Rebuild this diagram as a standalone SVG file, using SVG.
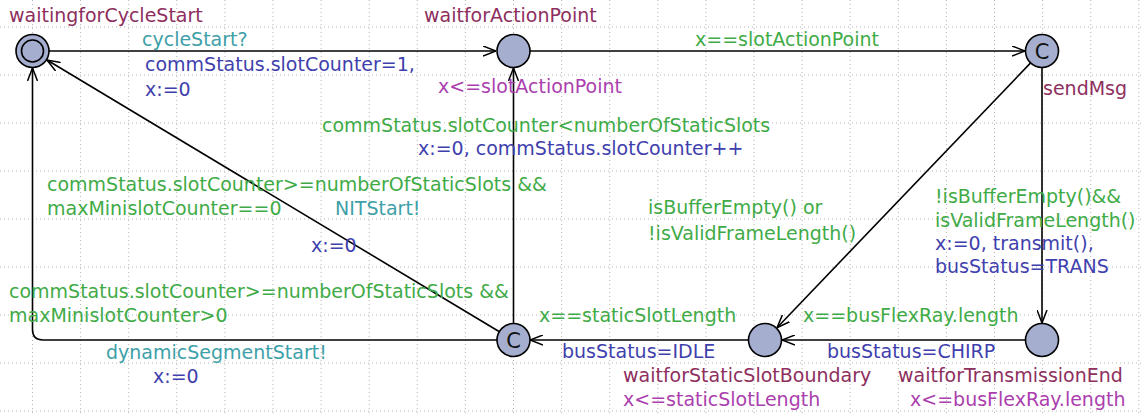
<svg xmlns="http://www.w3.org/2000/svg" width="1141" height="413" viewBox="0 0 1141 413">
  <style>
    .grid line { stroke: #b4b4b4; stroke-width: 1; stroke-dasharray: 1 3; }
    .loc { fill: #a5aecf; stroke: #000; stroke-width: 1.6; }
    .edge { fill: none; stroke: #000; stroke-width: 1.6; }
    text { font-family: "DejaVu Sans", "Liberation Sans", sans-serif; font-size: 19px; }
    .name { fill: #8e2f5e; }
    .inv { fill: #ab3fae; }
    .sync { fill: #3ea0a8; }
    .guard { fill: #3fab47; }
    .assign { fill: #3f3fae; }
    .committed { fill: #111; font-size: 21px; text-anchor: middle; }
  </style>
  <defs>
    <marker id="arrow" viewBox="0 0 13 11" refX="13" refY="5.5" markerWidth="13" markerHeight="11" markerUnits="userSpaceOnUse" orient="auto">
      <path d="M0,0.5 L13,5.5 L0,10.5" fill="none" stroke="#000" stroke-width="1.5"/>
    </marker>
  </defs>
  <rect width="1141" height="413" fill="#fff"/>

  <!-- background grid -->
  <g class="grid">
    <line x1="32.5" y1="0" x2="32.5" y2="413"/>
    <line x1="80.6" y1="0" x2="80.6" y2="413"/>
    <line x1="128.7" y1="0" x2="128.7" y2="413"/>
    <line x1="176.8" y1="0" x2="176.8" y2="413"/>
    <line x1="224.9" y1="0" x2="224.9" y2="413"/>
    <line x1="273" y1="0" x2="273" y2="413"/>
    <line x1="321.1" y1="0" x2="321.1" y2="413"/>
    <line x1="369.2" y1="0" x2="369.2" y2="413"/>
    <line x1="417.3" y1="0" x2="417.3" y2="413"/>
    <line x1="465.4" y1="0" x2="465.4" y2="413"/>
    <line x1="513.5" y1="0" x2="513.5" y2="413"/>
    <line x1="561.6" y1="0" x2="561.6" y2="413"/>
    <line x1="609.7" y1="0" x2="609.7" y2="413"/>
    <line x1="657.8" y1="0" x2="657.8" y2="413"/>
    <line x1="705.9" y1="0" x2="705.9" y2="413"/>
    <line x1="754" y1="0" x2="754" y2="413"/>
    <line x1="802.1" y1="0" x2="802.1" y2="413"/>
    <line x1="850.2" y1="0" x2="850.2" y2="413"/>
    <line x1="898.3" y1="0" x2="898.3" y2="413"/>
    <line x1="946.4" y1="0" x2="946.4" y2="413"/>
    <line x1="994.5" y1="0" x2="994.5" y2="413"/>
    <line x1="1042.6" y1="0" x2="1042.6" y2="413"/>
    <line x1="1090.7" y1="0" x2="1090.7" y2="413"/>
    <line x1="1138.8" y1="0" x2="1138.8" y2="413"/>
    <line x1="0" y1="27" x2="1141" y2="27"/>
    <line x1="0" y1="75" x2="1141" y2="75"/>
    <line x1="0" y1="123" x2="1141" y2="123"/>
    <line x1="0" y1="171" x2="1141" y2="171"/>
    <line x1="0" y1="219" x2="1141" y2="219"/>
    <line x1="0" y1="267" x2="1141" y2="267"/>
    <line x1="0" y1="315" x2="1141" y2="315"/>
    <line x1="0" y1="363" x2="1141" y2="363"/>
    <line x1="0" y1="411" x2="1141" y2="411"/>
  </g>

  <!-- transitions -->
  <g id="edges">
    <line class="edge" x1="49" y1="51" x2="496" y2="51" marker-end="url(#arrow)"/>
    <line class="edge" x1="530" y1="51" x2="1025" y2="51" marker-end="url(#arrow)"/>
    <line class="edge" x1="1042" y1="68" x2="1042" y2="323" marker-end="url(#arrow)"/>
    <line class="edge" x1="1030.6" y1="62.9" x2="777" y2="327.7" marker-end="url(#arrow)"/>
    <line class="edge" x1="1025" y1="340" x2="782" y2="340" marker-end="url(#arrow)"/>
    <line class="edge" x1="748" y1="340" x2="530" y2="340" marker-end="url(#arrow)"/>
    <line class="edge" x1="513.5" y1="323" x2="513.5" y2="68" marker-end="url(#arrow)"/>
    <line class="edge" x1="499" y1="331.5" x2="47" y2="60" marker-end="url(#arrow)"/>
    <path class="edge" d="M497,340 L43,340 Q32.5,340 32.5,329.5 L32.5,68" marker-end="url(#arrow)"/>

    <text class="sync" x="142" y="46">cycleStart?</text>
    <text class="assign" x="145" y="71">commStatus.slotCounter=1,</text>
    <text class="assign" x="145" y="96">x:=0</text>

    <text class="guard" x="695" y="46">x==slotActionPoint</text>

    <text class="guard" x="322" y="132">commStatus.slotCounter&lt;numberOfStaticSlots</text>
    <text class="assign" x="418" y="155">x:=0, commStatus.slotCounter++</text>

    <text class="guard" x="47" y="191">commStatus.slotCounter&gt;=numberOfStaticSlots &amp;&amp;</text>
    <text class="guard" x="47" y="215">maxMinislotCounter==0</text>
    <text class="sync" x="335" y="215">NITStart!</text>
    <text class="assign" x="311" y="252">x:=0</text>

    <text class="guard" x="648" y="214">isBufferEmpty() or</text>
    <text class="guard" x="648" y="240">!isValidFrameLength()</text>

    <text class="guard" x="935" y="203">!isBufferEmpty()&amp;&amp;</text>
    <text class="guard" x="935" y="227">isValidFrameLength()</text>
    <text class="assign" x="935" y="250">x:=0, transmit(),</text>
    <text class="assign" x="935" y="273">busStatus=TRANS</text>

    <text class="guard" x="9" y="298">commStatus.slotCounter&gt;=numberOfStaticSlots &amp;&amp;</text>
    <text class="guard" x="9" y="322">maxMinislotCounter&gt;0</text>
    <text class="sync" x="106" y="359">dynamicSegmentStart!</text>
    <text class="assign" x="153" y="383">x:=0</text>

    <text class="guard" x="539" y="322">x==staticSlotLength</text>
    <text class="assign" x="562" y="358">busStatus=IDLE</text>

    <text class="guard" x="803" y="322">x==busFlexRay.length</text>
    <text class="assign" x="827" y="358">busStatus=CHIRP</text>
  </g>

  <!-- locations -->
  <g id="waitingforCycleStart">
    <circle class="loc" cx="32.5" cy="51" r="16.5"/>
    <circle class="loc" cx="32.5" cy="51" r="11"/>
    <text class="name" x="9" y="22">waitingforCycleStart</text>
  </g>
  <g id="waitforActionPoint">
    <circle class="loc" cx="513.5" cy="51" r="16.5"/>
    <text class="name" x="424" y="22">waitforActionPoint</text>
    <text class="inv" x="438" y="93">x&lt;=slotActionPoint</text>
  </g>
  <g id="sendMsg">
    <circle class="loc" cx="1042" cy="51" r="16.5"/>
    <text class="committed" x="1042" y="58.5">C</text>
    <text class="name" x="1043" y="95">sendMsg</text>
  </g>
  <g id="waitforTransmissionEnd">
    <circle class="loc" cx="1042" cy="340" r="16.5"/>
    <text class="name" x="898" y="382">waitforTransmissionEnd</text>
    <text class="inv" x="910" y="406">x&lt;=busFlexRay.length</text>
  </g>
  <g id="waitforStaticSlotBoundary">
    <circle class="loc" cx="765" cy="340" r="16.5"/>
    <text class="name" x="623" y="382">waitforStaticSlotBoundary</text>
    <text class="inv" x="623" y="406">x&lt;=staticSlotLength</text>
  </g>
  <g id="slotEnd">
    <circle class="loc" cx="513.5" cy="340" r="16.5"/>
    <text class="committed" x="513.5" y="347.5">C</text>
  </g>
</svg>
